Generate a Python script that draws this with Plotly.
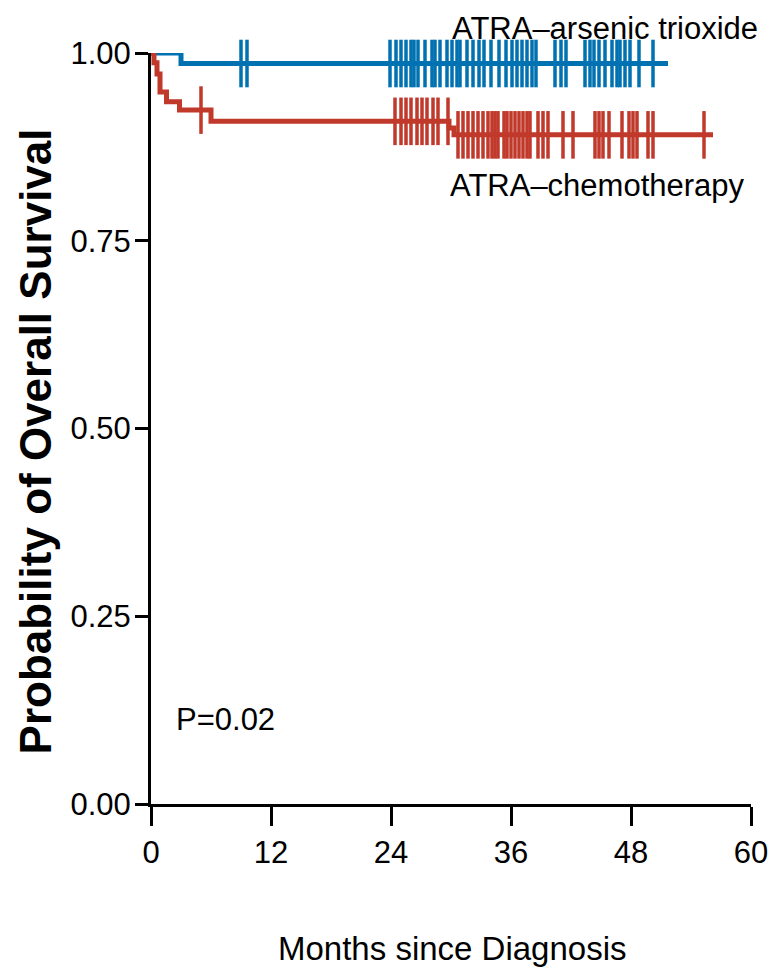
import numpy as np
import plotly.graph_objects as go

# ---- data ----
ato_times = [0.0, 3.0, 51.7]
ato_surv = [1.0, 0.986, 0.986]
ato_censor = [9.0, 9.6, 23.9, 24.5, 25.0, 25.5, 26.0, 26.3, 26.7, 27.4, 28.1, 28.4,
              28.9, 29.6, 30.1, 30.6, 30.9, 31.6, 32.2, 32.8, 33.3, 34.0, 34.8, 35.5,
              36.1, 36.6, 37.1, 37.6, 38.1, 38.5, 40.4, 41.0, 41.5, 43.4, 43.9, 44.3,
              44.8, 45.4, 46.1, 46.6, 46.9, 47.4, 47.9, 48.8, 50.2]

chemo_times = [0.0, 0.3, 0.6, 0.9, 1.55, 2.85, 6.0, 29.8, 30.3, 56.2]
chemo_surv = [1.0, 0.987, 0.972, 0.948, 0.935, 0.924, 0.909, 0.900, 0.891, 0.891]
chemo_censor = [5.0, 24.4, 25.0, 25.5, 26.0, 26.6, 27.1, 27.6, 28.2, 28.7, 29.7, 30.7,
                31.2, 31.7, 32.2, 32.7, 33.2, 33.7, 34.1, 34.4, 34.7, 35.3, 35.6, 36.0,
                36.4, 36.8, 37.2, 37.6, 37.9, 38.7, 39.2, 39.7, 41.2, 42.2, 44.4, 44.8,
                45.2, 45.8, 47.1, 47.8, 48.2, 48.6, 49.7, 50.2, 55.3]

x_ticks = [0, 12, 24, 36, 48, 60]
y_ticks = [0.0, 0.25, 0.50, 0.75, 1.00]
y_ticklabels = ["0.00", "0.25", "0.50", "0.75", "1.00"]

BLUE = "#0072B2"
RED = "#C0392B"
FONT = "Liberation Sans, Arial, sans-serif"


def surv_at(times, surv, t):
    idx = np.searchsorted(np.array(times), np.array(t), side="right") - 1
    return np.array(surv)[idx]


fig = go.Figure()
for times, surv, cens, col in [(ato_times, ato_surv, ato_censor, BLUE),
                               (chemo_times, chemo_surv, chemo_censor, RED)]:
    fig.add_trace(go.Scatter(x=times, y=surv, mode="lines",
                             line=dict(color=col, width=5, shape="hv"),
                             cliponaxis=False, showlegend=False, hoverinfo="skip"))
    fig.add_trace(go.Scatter(x=cens, y=surv_at(times, surv, cens), mode="markers",
                             marker=dict(symbol="line-ns", size=34,
                                         line=dict(color=col, width=3.5)),
                             cliponaxis=False, showlegend=False, hoverinfo="skip"))

ann_font = dict(family=FONT, size=31, color="black")
fig.add_annotation(x=1.015, y=1.032, xref="paper", yref="paper",
                   text="ATRA\u2013arsenic trioxide",
                   showarrow=False, xanchor="right", yanchor="middle", font=ann_font)
fig.add_annotation(x=0.993, y=0.824, xref="paper", yref="paper",
                   text="ATRA\u2013chemotherapy",
                   showarrow=False, xanchor="right", yanchor="middle", font=ann_font)
fig.add_annotation(x=0.039, y=0.112, xref="paper", yref="paper", text="P=0.02",
                   showarrow=False, xanchor="left", yanchor="middle", font=ann_font)
fig.add_annotation(x=-0.193, y=0.483, xref="paper", yref="paper",
                   text="Probability of Overall Survival", textangle=-90,
                   showarrow=False, xanchor="center", yanchor="middle",
                   font=dict(family=FONT, size=44, color="black", weight="bold"))
fig.add_annotation(x=0.502, y=-0.192, xref="paper", yref="paper",
                   text="Months since Diagnosis",
                   showarrow=False, xanchor="center", yanchor="middle",
                   font=dict(family=FONT, size=33, color="black"))

fig.update_xaxes(range=[0, 60], tickvals=x_ticks, ticktext=[str(v) for v in x_ticks],
                 showline=True, linecolor="black", linewidth=3, ticks="outside",
                 ticklen=19, tickwidth=3, tickcolor="black", showgrid=False,
                 zeroline=False, ticklabelstandoff=0,
                 tickfont=dict(family=FONT, size=31, color="black"))
fig.update_yaxes(range=[0, 1], tickvals=y_ticks, ticktext=y_ticklabels,
                 showline=True, linecolor="black", linewidth=3, ticks="outside",
                 ticklen=13, tickwidth=3, tickcolor="black", showgrid=False,
                 zeroline=False, ticklabelstandoff=-2,
                 tickfont=dict(family=FONT, size=31, color="black"))

# page has an 8 px body margin, so the figure is offset by 8 px
fig.update_layout(width=772, height=967, margin=dict(l=143, r=19, t=45, b=171),
                  plot_bgcolor="white", paper_bgcolor="white")

fig.write_html("out.html")
